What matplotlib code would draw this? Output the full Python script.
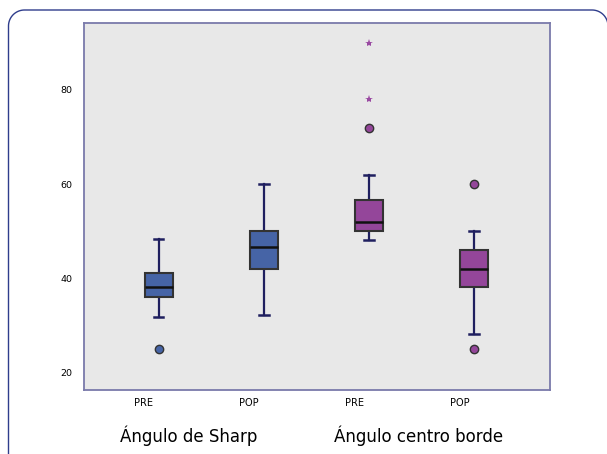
import matplotlib
import numpy as np

matplotlib.use("Agg")
import matplotlib.pyplot as plt  # noqa: E402
from matplotlib.lines import Line2D  # noqa: E402
from matplotlib.transforms import IdentityTransform  # noqa: E402

# box statistics (Sharp PRE/POP, centro borde PRE/POP)
tick_labels = ["PRE", "POP", "PRE", "POP"]
groups = ["Ángulo de Sharp", "Ángulo centro borde"]
whislo = [31.8, 32.2, 48.0, 28.0]
q1 = [36.0, 42.0, 50.0, 38.0]
med = [38.2, 46.5, 52.0, 42.0]
q3 = [41.0, 50.0, 56.5, 46.0]
whishi = [48.3, 60.0, 62.0, 50.0]
outliers = [[25.0], [], [72.0], [60.0, 25.0]]
extremes = [[], [], [90.0, 78.0], []]

BLUE, PURPLE = "#4664a6", "#94469a"
colors = [BLUE, BLUE, PURPLE, PURPLE]
NAVY = "#1f1f5f"

fig = plt.figure(figsize=(6.07, 4.54), dpi=100)
ax = fig.add_axes([0.1376, 0.141, 0.7685, 0.809])
ax.set_facecolor("#e8e8e8")

pos = np.arange(1, 5)
stats = [dict(whislo=a, q1=b, med=c, q3=d, whishi=e, fliers=f)
         for a, b, c, d, e, f in zip(whislo, q1, med, q3, whishi, outliers)]
bp = ax.bxp(stats, positions=pos, widths=0.266, capwidths=0.092, patch_artist=True,
            showfliers=True,
            boxprops=dict(edgecolor="#333333", linewidth=1.5),
            medianprops=dict(color="#111111", linewidth=1.8),
            whiskerprops=dict(color=NAVY, linewidth=1.6),
            capprops=dict(color=NAVY, linewidth=1.8))
for box, c in zip(bp["boxes"], colors):
    box.set_facecolor(c)
    box.set_zorder(3)
for med_line in bp["medians"]:
    med_line.set_zorder(4)
for fl, c in zip(bp["fliers"], colors):
    fl.set(marker="o", markersize=6, markerfacecolor=c, markeredgecolor="#333333",
           markeredgewidth=1.0)
for p, ext in zip(pos, extremes):
    if ext:
        ax.plot([p] * len(ext), ext, ls="none", marker="*", markersize=6,
                color="#9a4aa2", markeredgewidth=0)

ax.set_xlim(0.2874, 4.719)
ax.set_ylim(16.2, 94.3)
ax.set_yticks([20, 40, 60, 80])
ax.set_yticklabels(["20", "40", "60", "80"], fontsize=6.8)
ax.set_xticks(pos - 0.14)
ax.set_xticklabels(tick_labels, fontsize=7)
ax.tick_params(length=0)
ax.tick_params(axis="y", pad=8)
ax.tick_params(axis="x", pad=6)
for s in ax.spines.values():
    s.set_color("#7a7aaa")
    s.set_linewidth(1.3)

fig.text(189 / 607, 0.0396, groups[0], ha="center", va="center", fontsize=12)
fig.text(419 / 607, 0.0396, groups[1], ha="center", va="center", fontsize=12)

# rounded outer frame in pixel coords (origin bottom-left), running off the right/bottom edges
r, x0, x1, ytop, ybot = 16.0, 8.5, 608.0, 444.0, -12.0
t = np.linspace(0, np.pi / 2, 20)
fx = np.concatenate([[x0], x0 + r - r * np.cos(t), x1 - r + r * np.sin(t), [x1]])
fy = np.concatenate([[ybot], ytop - r + r * np.sin(t), ytop - r + r * np.cos(t), [ybot]])
fig.add_artist(Line2D(fx, fy, transform=IdentityTransform(), color="#2f3d8c", lw=1.0))

fig.savefig("out.png", dpi=100)
